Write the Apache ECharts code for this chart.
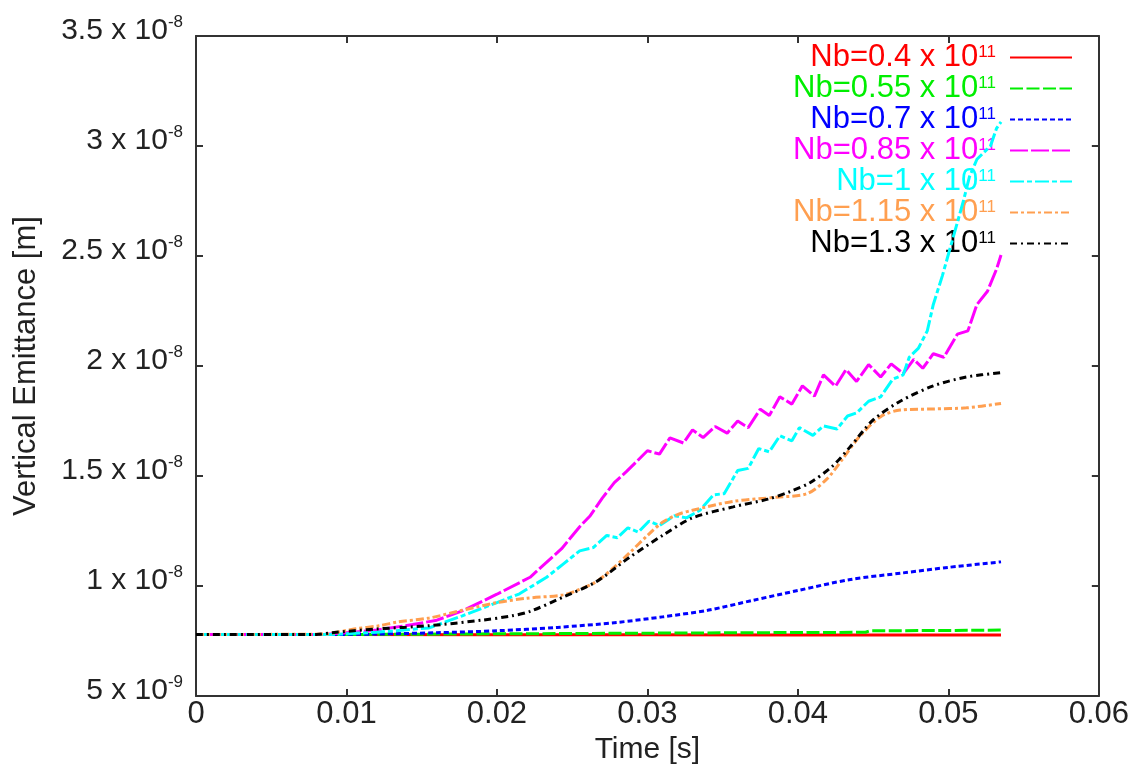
<!DOCTYPE html>
<html>
<head>
<meta charset="utf-8">
<script src="https://cdn.jsdelivr.net/npm/echarts@6/dist/echarts.min.js"></script>
<style>
html,body{margin:0;padding:0;background:#fff;}
#chart{width:1132px;height:770px;}
</style>
</head>
<body>
<div id="chart"></div>
<script>
// Values: time in s, emittance in units of 1e-9 m
const seriesNames = ['Nb=0.4 x 10^11','Nb=0.55 x 10^11','Nb=0.7 x 10^11','Nb=0.85 x 10^11','Nb=1 x 10^11','Nb=1.15 x 10^11','Nb=1.3 x 10^11'];
const legendMain = ['Nb=0.4 x 10','Nb=0.55 x 10','Nb=0.7 x 10','Nb=0.85 x 10','Nb=1 x 10','Nb=1.15 x 10','Nb=1.3 x 10'];
const legendSup = ['11','11','11','11','11','11','11'];
const xTicks = [0, 0.01, 0.02, 0.03, 0.04, 0.05, 0.06];
const yTicks = [5, 10, 15, 20, 25, 30, 35];

const t_04 = [0, 0.01, 0.02, 0.03, 0.04, 0.05, 0.0535];
const v_04 = [7.8, 7.8, 7.79, 7.79, 7.78, 7.78, 7.78];

const t_055 = [0, 0.01, 0.02, 0.03, 0.04, 0.0445, 0.0448, 0.05, 0.0535];
const v_055 = [7.8, 7.8, 7.83, 7.86, 7.89, 7.9, 7.97, 7.98, 8.0];

const t_07 = [0, 0.008, 0.012, 0.016, 0.02, 0.024, 0.028, 0.031, 0.034, 0.037, 0.04, 0.0435, 0.047, 0.05, 0.0535];
const v_07 = [7.8, 7.8, 7.82, 7.88, 7.97, 8.12, 8.35, 8.6, 8.9, 9.35, 9.8, 10.3, 10.6, 10.85, 11.1];

const t_085 = [0, 0.0085, 0.012, 0.0144, 0.016, 0.0177, 0.02, 0.0222, 0.0243, 0.0255, 0.0262, 0.027, 0.0278, 0.0286, 0.03, 0.0308, 0.0315, 0.0324, 0.033, 0.0337, 0.0345, 0.0353, 0.036, 0.0367, 0.0375, 0.0381, 0.0388, 0.0396, 0.0403, 0.0411, 0.0417, 0.0425, 0.0432, 0.0439, 0.0447, 0.0455, 0.0462, 0.047, 0.0477, 0.0483, 0.049, 0.0497, 0.0506, 0.0513, 0.0519, 0.0526, 0.0532, 0.0535];
const v_085 = [7.8, 7.8, 8.0, 8.25, 8.45, 8.87, 9.63, 10.4, 11.7, 12.7, 13.2, 14.0, 14.7, 15.2, 16.15, 16.0, 16.74, 16.5, 17.1, 16.75, 17.25, 16.95, 17.5, 17.2, 18.04, 17.75, 18.6, 18.27, 19.1, 18.63, 19.6, 19.08, 19.84, 19.3, 20.07, 19.5, 20.1, 19.66, 20.3, 19.9, 20.56, 20.4, 21.45, 21.6, 22.8, 23.4, 24.4, 25.05];

const t_1 = [0, 0.009, 0.012, 0.0155, 0.0177, 0.02, 0.0215, 0.0233, 0.0244, 0.0255, 0.0264, 0.0273, 0.028, 0.0287, 0.0294, 0.0301, 0.0308, 0.0318, 0.0326, 0.0335, 0.0344, 0.0351, 0.036, 0.0367, 0.0374, 0.0381, 0.0388, 0.0396, 0.0401, 0.041, 0.0417, 0.0426, 0.0433, 0.0439, 0.0447, 0.0455, 0.0463, 0.047, 0.0474, 0.048, 0.0486, 0.049, 0.0496, 0.0503, 0.051, 0.0514, 0.0519, 0.0528, 0.0532, 0.0535];
const v_1 = [7.8, 7.8, 7.9, 8.1, 8.65, 9.25, 9.65, 10.4, 11.0, 11.6, 11.75, 12.3, 12.2, 12.65, 12.45, 12.95, 12.75, 13.2, 13.1, 13.45, 14.15, 14.2, 15.25, 15.35, 16.25, 16.1, 16.83, 16.6, 17.2, 16.85, 17.28, 17.14, 17.73, 17.87, 18.4, 18.6, 19.4, 19.6, 20.4, 20.8, 21.6, 22.8, 24.1, 25.8, 27.5, 28.6, 29.4, 30.0, 30.8, 31.1];

const t_115 = [0, 0.0085, 0.0105, 0.0122, 0.0134, 0.0155, 0.0177, 0.02, 0.022, 0.0244, 0.0255, 0.0266, 0.0277, 0.0288, 0.03, 0.031, 0.032, 0.033, 0.0357, 0.0386, 0.0406, 0.0419, 0.043, 0.0441, 0.0455, 0.0468, 0.049, 0.0512, 0.0535];
const v_115 = [7.8, 7.82, 8.05, 8.2, 8.37, 8.55, 8.9, 9.25, 9.45, 9.6, 9.85, 10.2, 10.8, 11.5, 12.3, 12.9, 13.25, 13.45, 13.85, 14.04, 14.2, 14.85, 15.8, 16.8, 17.7, 18.0, 18.05, 18.1, 18.3];

const t_13 = [0, 0.008, 0.009, 0.012, 0.0155, 0.019, 0.021, 0.0222, 0.0244, 0.0266, 0.0288, 0.031, 0.033, 0.0357, 0.038, 0.0395, 0.0408, 0.0423, 0.0435, 0.045, 0.0468, 0.049, 0.0512, 0.0535];
const v_13 = [7.8, 7.8, 7.88, 8.05, 8.2, 8.45, 8.65, 8.85, 9.5, 10.2, 11.3, 12.3, 13.1, 13.6, 13.95, 14.3, 14.7, 15.45, 16.35, 17.55, 18.4, 19.1, 19.5, 19.7];

const times = [t_04, t_055, t_07, t_085, t_1, t_115, t_13];
const values = [v_04, v_055, v_07, v_085, v_1, v_115, v_13];
const colors = ['#ff0000', '#00ee00', '#0000ff', '#ff00ff', '#00ffff', '#ff9f50', '#000000'];
const dashes = ['solid', [13, 3.5], [5, 3], [18, 3], [14, 3, 5, 3], [8, 3, 3, 3], [7, 4, 2, 4]];
const smoothing = [false, false, 0.3, false, false, 0.3, 0.3];

const FONT = 'Liberation Sans';
const TXT = '#222';

const series = seriesNames.map((name, i) => ({
  name: name,
  type: 'line',
  data: times[i].map((t, k) => [t, values[i][k]]),
  symbol: 'none',
  showSymbol: false,
  smooth: smoothing[i],
  z: 2 + i,
  color: colors[i],
  lineStyle: { color: colors[i], width: 3, type: dashes[i] },
  xAxisIndex: 0,
  yAxisIndex: 0,
  animation: false
}));

const legendRich = {};
colors.forEach((c, i) => {
  legendRich['m' + i] = { fontFamily: FONT, fontSize: 31, color: c, lineHeight: 29 };
  legendRich['s' + i] = { fontFamily: FONT, fontSize: 17, color: c, padding: [0, 0, 10, 0] };
});

const axisLineStyle = { color: '#333', width: 2 };

const option = {
  backgroundColor: '#fff',
  animation: false,
  grid: { left: 196, right: 33, top: 36, bottom: 67, containLabel: false },
  legend: {
    data: seriesNames,
    orient: 'vertical',
    align: 'right',
    right: 59,
    top: 42,
    padding: 0,
    itemGap: 0,
    itemWidth: 62,
    itemHeight: 14,
    selectedMode: false,
    itemStyle: { opacity: 0 },
    textStyle: { fontFamily: FONT, fontSize: 31, lineHeight: 29, padding: [0, 9, 0, 0], rich: legendRich },
    formatter: function (name) {
      const i = seriesNames.indexOf(name);
      return '{m' + i + '|' + legendMain[i] + '}{s' + i + '|' + legendSup[i] + '}';
    }
  },
  xAxis: [
    {
      type: 'value', min: xTicks[0], max: xTicks[xTicks.length - 1], interval: 0.01,
      position: 'bottom',
      name: 'Time [s]', nameLocation: 'middle', nameGap: 33,
      nameTextStyle: { fontFamily: FONT, fontSize: 30, color: TXT },
      axisLine: { show: true, onZero: false, lineStyle: axisLineStyle },
      axisTick: { show: true, inside: true, length: 7, lineStyle: axisLineStyle },
      axisLabel: { fontFamily: FONT, fontSize: 31, color: TXT, margin: 3,
        formatter: function (v) { return String(Math.round(v * 100) / 100); } },
      splitLine: { show: false }
    },
    {
      type: 'value', min: xTicks[0], max: xTicks[xTicks.length - 1], interval: 0.01,
      position: 'top',
      axisLine: { show: true, onZero: false, lineStyle: axisLineStyle },
      axisTick: { show: true, inside: true, length: 7, lineStyle: axisLineStyle },
      axisLabel: { show: false },
      splitLine: { show: false }
    }
  ],
  yAxis: [
    {
      type: 'value', min: yTicks[0], max: yTicks[yTicks.length - 1], interval: 5,
      position: 'left',
      name: 'Vertical Emittance [m]', nameLocation: 'middle', nameGap: 154, nameRotate: 90,
      nameTextStyle: { fontFamily: FONT, fontSize: 31, color: TXT },
      axisLine: { show: true, onZero: false, lineStyle: axisLineStyle },
      axisTick: { show: true, inside: true, length: 7, lineStyle: axisLineStyle },
      axisLabel: {
        margin: 13, padding: [0, 0, 10, 0],
        formatter: function (v) {
          if (v < 10) return '{m|' + v + ' x 10}{e|-9}';
          return '{m|' + (Math.round(v) / 10) + ' x 10}{e|-8}';
        },
        rich: {
          m: { fontFamily: FONT, fontSize: 30, color: TXT },
          e: { fontFamily: FONT, fontSize: 17, color: TXT, padding: [0, 0, 18, 0] }
        }
      },
      splitLine: { show: false }
    },
    {
      type: 'value', min: yTicks[0], max: yTicks[yTicks.length - 1], interval: 5,
      position: 'right',
      axisLine: { show: true, onZero: false, lineStyle: axisLineStyle },
      axisTick: { show: true, inside: true, length: 7, lineStyle: axisLineStyle },
      axisLabel: { show: false },
      splitLine: { show: false }
    }
  ],
  series: series
};

const chart = echarts.init(document.getElementById('chart'), null, { renderer: 'canvas' });
chart.setOption(option);
</script>
</body>
</html>
